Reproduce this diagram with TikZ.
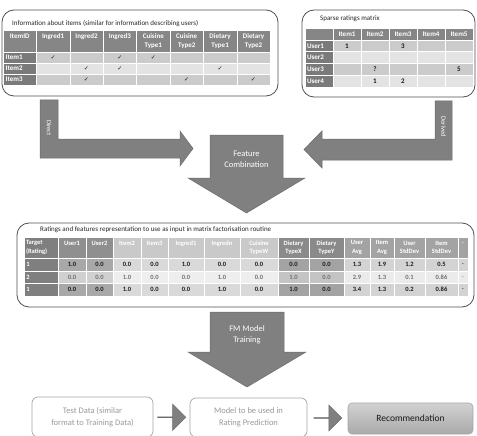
\documentclass[tikz,border=0pt]{standalone}
\usepackage{fontspec}
\setmainfont{Carlito}
\newfontfamily\symfont{DejaVu Sans}
\usetikzlibrary{shapes.arrows,calc}
\definecolor{arrowgray}{HTML}{808080}
\definecolor{arrowedge}{HTML}{6B6B6B}
\definecolor{paneledge}{HTML}{505050}
\definecolor{hdrdark}{HTML}{868686}
\definecolor{coldark}{HTML}{7A7A7A}
\definecolor{rowA}{HTML}{CBCBCB}
\definecolor{rowB}{HTML}{E3E3E3}
\definecolor{hdr0}{HTML}{7F7F7F}
\definecolor{hdr1}{HTML}{8F8F8F}
\definecolor{hdr2}{HTML}{C9C9C9}
\definecolor{hdr3}{HTML}{8A8A8A}
\definecolor{hdr4}{HTML}{A3A3A3}
\definecolor{odd1}{HTML}{A8A8A8}
\definecolor{odd2}{HTML}{D9D9D9}
\definecolor{odd3}{HTML}{A3A3A3}
\definecolor{odd4}{HTML}{D3D3D3}
\definecolor{even1}{HTML}{D0D0D0}
\definecolor{even2}{HTML}{EEEEEE}
\definecolor{even3}{HTML}{C4C4C4}
\definecolor{even4}{HTML}{EBEBEB}
\definecolor{todd}{HTML}{1A1A1A}
\definecolor{teven}{HTML}{707070}
\definecolor{softtext}{HTML}{9A9A9A}
\definecolor{softedge}{HTML}{A6A6A6}
\definecolor{recTop}{HTML}{D2D2D2}
\definecolor{recBot}{HTML}{A9A9A9}
\newcommand\cellat[7]{\node[cellbase,minimum width=#4pt,minimum height=#5pt,#6] (#1) at ({#2+#4/2},{#3+#5/2}) {#7};}
\newcommand\ck{{\symfont\fontsize{6}{6}\selectfont ✓}}
\tikzset{
  cellbase/.style={draw=white,line width=0.6pt,inner sep=0pt,align=center},
  hdr/.style={fill=hdrdark,text=white,font=\fontsize{7}{9.5}\selectfont\bfseries},
  lcol/.style={fill=coldark,text=white,font=\fontsize{7}{8}\selectfont\bfseries,text width=28pt,align=left},
  dcell/.style={text=todd,font=\fontsize{7}{8}\selectfont\bfseries},
  mhdr/.style={text=white,font=\fontsize{6.5}{8.5}\selectfont\bfseries},
  mlead/.style={fill=hdr0,text=white,font=\fontsize{6.5}{8}\selectfont\bfseries,text width=29pt,align=left},
  dat/.style={font=\fontsize{6.5}{8}\selectfont\bfseries},
  panel/.style={draw=paneledge,line width=0.8pt,rounded corners=12pt},
  title/.style={font=\fontsize{7}{8}\selectfont,text=black!85,inner sep=0pt,anchor=west},
  blockarrow/.style={fill=arrowgray,draw=arrowedge,line width=0.5pt},
  arrowtext/.style={font=\fontsize{8.5}{11}\selectfont,text=white,align=center},
  softbox/.style={draw=softedge,line width=0.7pt,rounded corners=6pt,text=softtext,align=center,font=\fontsize{8.5}{12}\selectfont,inner sep=0pt},
  smallarrow/.style={single arrow,fill=arrowgray,draw=arrowedge,line width=0.5pt,minimum height=28pt,minimum width=26pt,single arrow head extend=7pt,inner sep=0pt}
}
\begin{document}
\begin{tikzpicture}[x=1pt,y=-1pt]
\useasboundingbox (0,0) rectangle (477,436);
\fill[white] (0,0) rectangle (477,436);

% ---------- top-left panel ----------
\draw[panel] (2,10) rectangle (278,96);
\node[title] (t1) at (12,24) {Information about items (similar for information describing users)};
\foreach \lab [count=\i from 0] in {{ItemID\\~},{Ingred1\\~},{Ingred2\\~},{Ingred3\\~},{Cuisine\\Type1},{Cuisine\\Type2},{Dietary\\Type1},{Dietary\\Type2}}{
  \pgfmathsetmacro\xx{3+33.4*\i}
  \cellat{ih\i}{\xx}{30}{33.4}{22}{hdr}{\lab}
}
\foreach \r/\y/\f/\vals in {1/52/rowA/{\ck,{},\ck,\ck,{},{},{}},2/63/rowB/{{},\ck,\ck,{},{},\ck,{}},3/74/rowA/{{},\ck,{},{},\ck,{},\ck}}{
  \cellat{ir\r c0}{3}{\y}{33.4}{11}{lcol}{Item\r}
  \foreach \v [count=\j] in \vals {
    \pgfmathsetmacro\xx{3+33.4*\j}
    \cellat{ir\r c\j}{\xx}{\y}{33.4}{11}{dcell,fill=\f}{\v}
  }
}

% ---------- top-right panel ----------
\draw[panel] (302,10) rectangle (475,97);
\node[title] (t2) at (320,19) {Sparse ratings matrix};
\cellat{sh0}{305}{28}{28}{12}{hdr}{}
\foreach \k in {1,...,5}{
  \pgfmathsetmacro\xx{305+28*\k}
  \cellat{sh\k}{\xx}{28}{28}{12}{hdr,font=\fontsize{7}{8}\selectfont\bfseries}{Item\k}
}
\foreach \r/\y/\f/\vals in {1/40/rowA/{1,{},3,{},{}},2/51.75/rowB/{{},{},{},{},{}},3/63.5/rowA/{{},?,{},{},5},4/75.25/rowB/{{},1,2,{},{}}}{
  \cellat{sr\r c0}{305}{\y}{28}{11.75}{lcol,text width=24pt}{User\r}
  \foreach \v [count=\j] in \vals {
    \pgfmathsetmacro\xx{305+28*\j}
    \cellat{sr\r c\j}{\xx}{\y}{28}{11.75}{dcell,fill=\f}{\v}
  }
}

% ---------- L-shaped arrows ----------
\path[blockarrow] (40,100) -- (58,100) -- (58,139) -- (180,139) -- (180,131) -- (193,148.5) -- (180,166) -- (180,158) -- (40,158) -- cycle;
\node[rotate=-90,font=\fontsize{6.5}{7}\selectfont,text=white] (direct) at (49,128) {Direct};
\path[blockarrow] (435,101) -- (452,101) -- (452,160) -- (322,160) -- (322,168) -- (304,149.5) -- (322,131) -- (322,139) -- (435,139) -- cycle;
\node[rotate=-90,font=\fontsize{6.5}{7}\selectfont,text=white] (derived) at (443.5,127) {Derived};

% ---------- Feature combination arrow ----------
\path[blockarrow] (210,135) -- (283,135) -- (283,178) -- (305,178) -- (246.5,213) -- (188,178) -- (210,178) -- cycle;
\node[arrowtext] (fc) at (246.5,159) {Feature\\Combination};

% ---------- middle panel ----------
\draw[panel] (17,223) rectangle (474,307);
\node[title] (t3) at (40,230) {Ratings and features representation to use as input in matrix factorisation routine};
\cellat{mh0}{24}{237}{34}{21}{mhdr,fill=hdr0,text width=30pt,align=left}{Target\\(Rating)}
\foreach \x/\w/\g/\lab [count=\i] in {58/28/1/{User1\\~},86/27/1/{User2\\~},113/28/2/{Item2\\~},141/27/2/{Item3\\~},168/36/2/{Ingred1\\~},204/36/2/{Ingredn\\~},240/38/2/{Cuisine\\TypeW},278/31/3/{Dietary\\TypeX},309/35/3/{Dietary\\TypeY},344/26/4/{User\\Avg},370/24/4/{Item\\Avg},394/31/4/{User\\StdDev},425/33/4/{Item\\StdDev},458/10/4/{.\\~}}{
  \cellat{mh\i}{\x}{237}{\w}{21}{mhdr,fill=hdr\g}{\lab}
}
\def\mx{{58,86,113,141,168,204,240,278,309,344,370,394,425,458}}
\def\mw{{28,27,28,27,36,36,38,31,35,26,24,31,33,10}}
\def\mg{{1,1,2,2,2,2,2,3,3,4,4,4,4,4}}
\foreach \r/\y/\h/\rt/\lead/\vals in {
  1/258/13/odd/1/{1.0,0.0,0.0,0.0,1.0,0.0,0.0,0.0,0.0,1.3,1.9,1.2,0.5,.},
  2/271/12/even/2/{0.0,0.0,1.0,0.0,0.0,1.0,0.0,1.0,0.0,2.9,1.3,0.1,0.86,.},
  3/283/13/odd/1/{0.0,0.0,1.0,0.0,0.0,1.0,0.0,1.0,0.0,3.4,1.3,0.2,0.86,.}}{
  \cellat{m\r c0}{24}{\y}{34}{\h}{mlead}{\lead}
  \foreach \v [count=\i from 0] in \vals {
    \pgfmathsetmacro\xx{\mx[\i]}
    \pgfmathsetmacro\ww{\mw[\i]}
    \pgfmathtruncatemacro\gg{\mg[\i]}
    \pgfmathtruncatemacro\ii{\i+1}
    \cellat{m\r c\ii}{\xx}{\y}{\ww}{\h}{dat,fill=\rt\gg,text=t\rt}{\v}
  }
}

% ---------- FM model training arrow ----------
\path[blockarrow] (210,312) -- (284,312) -- (284,352) -- (306,352) -- (247,387) -- (188,352) -- (210,352) -- cycle;
\node[arrowtext] (fm) at (247,335) {FM Model\\Training};

% ---------- bottom row ----------
\node[softbox,minimum width=121pt,minimum height=40pt] (test) at (92.5,417) {Test Data (similar\\format to Training Data)};
\node[softbox,minimum width=117pt,minimum height=39pt] (model) at (248.5,417.5) {Model to be used in\\Rating Prediction};
\node[draw=softedge,line width=0.6pt,rounded corners=4pt,top color=recTop,bottom color=recBot,minimum width=125pt,minimum height=31pt,font=\fontsize{9.5}{11}\selectfont,text=black!90] (rec) at (410.5,418.5) {Recommendation};
\node[smallarrow] (a1) at ($(test.east)!0.5!(model.west)$) {};
\node[smallarrow] (a2) at ($(model.east)!0.5!(rec.west)$) {};
\end{tikzpicture}
\end{document}
